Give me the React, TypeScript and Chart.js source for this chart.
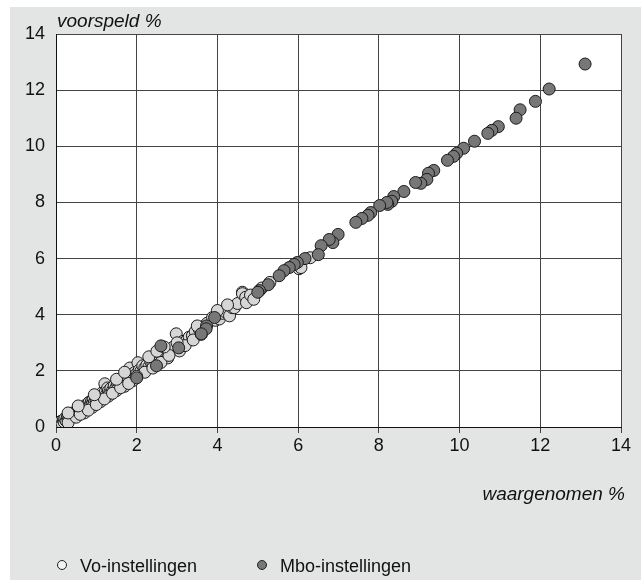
import React, { useEffect, useRef } from "react";
import { Chart, registerables } from "chart.js";

Chart.register(...registerables);

const seriesNames = ["Vo-instellingen", "Mbo-instellingen"];
const xTitle = "waargenomen %";
const yTitle = "voorspeld %";
const xTickValues = [0, 2, 4, 6, 8, 10, 12, 14];
const yTickValues = [0, 2, 4, 6, 8, 10, 12, 14];

// Vo-instellingen: [waargenomen, voorspeld]
const voPoints: [number, number][] = [
  [0.02, 0.12], [0.05, 0.08], [0.08, 0.15], [0.1, 0.05], [0.12, 0.2], [0.15, 0.12],
  [0.18, 0.25], [0.2, 0.18], [0.22, 0.3], [0.25, 0.22], [0.28, 0.35], [0.3, 0.25],
  [0.32, 0.4], [0.35, 0.3], [0.38, 0.45], [0.4, 0.36], [0.42, 0.5], [0.45, 0.4],
  [0.48, 0.42], [0.5, 0.55], [0.52, 0.46], [0.55, 0.6], [0.58, 0.52], [0.6, 0.58],
  [0.62, 0.66], [0.65, 0.6], [0.68, 0.7], [0.7, 0.63], [0.72, 0.76], [0.75, 0.7],
  [0.78, 0.8], [0.8, 0.72], [0.82, 0.88], [0.85, 0.8], [0.88, 0.92], [0.9, 0.84],
  [0.92, 1.0], [0.95, 0.88], [0.98, 1.04], [1.0, 0.95], [1.03, 1.1], [1.06, 0.98],
  [1.1, 1.15], [1.12, 1.05], [1.15, 1.22], [1.18, 1.1], [1.21, 1.54], [1.22, 1.25],
  [1.25, 1.16], [1.28, 1.39], [1.3, 1.28], [1.33, 1.22], [1.36, 1.38], [1.4, 1.3],
  [1.44, 1.46], [1.48, 1.38], [1.52, 1.56], [1.56, 1.48], [1.6, 1.62], [1.63, 1.53],
  [1.67, 1.7], [1.72, 1.62], [1.76, 1.8], [1.8, 1.72], [1.83, 2.1], [1.86, 1.86],
  [1.9, 1.8], [1.95, 1.94], [2.0, 1.9], [2.03, 2.29], [2.06, 2.02], [2.1, 1.98],
  [2.15, 2.18], [2.2, 2.1], [2.25, 2.2], [2.3, 2.14], [2.35, 2.32], [2.4, 2.28],
  [2.45, 2.42], [2.5, 2.34], [2.57, 2.36], [2.62, 2.56], [2.7, 2.6], [2.77, 2.46],
  [2.82, 2.72], [2.9, 2.84], [2.98, 3.32], [3.06, 2.71], [3.1, 2.95], [3.15, 3.05],
  [3.23, 3.07], [3.3, 3.2], [3.38, 3.25], [3.45, 3.4], [3.55, 3.48], [3.65, 3.58],
  [3.75, 3.7], [3.88, 3.9], [3.95, 3.8], [4.05, 3.85], [4.12, 4.05], [4.2, 4.1],
  [4.3, 3.96], [4.37, 4.25], [4.42, 4.25], [4.5, 4.4], [4.62, 4.8], [4.62, 4.75],
  [4.7, 4.62], [4.72, 4.43], [4.82, 4.7], [4.9, 4.55], [5.1, 4.95], [5.3, 5.15],
  [6.02, 5.64], [6.07, 5.68], [6.3, 6.03],
  [0.3, 0.15], [0.5, 0.35], [0.7, 0.5], [0.9, 0.7], [1.1, 0.9], [1.3, 1.1],
  [1.5, 1.3], [1.7, 1.45], [1.9, 1.65], [2.2, 1.95], [2.4, 2.1], [2.6, 2.3],
  [0.6, 0.45], [0.8, 0.6], [1.0, 0.8], [1.2, 1.0], [1.4, 1.2], [1.6, 1.4],
  [1.8, 1.55], [2.0, 1.8], [2.8, 2.55], [3.2, 2.9], [3.4, 3.1], [3.6, 3.3],
  [1.5, 1.7], [1.7, 1.95], [2.3, 2.5], [2.5, 2.7], [0.3, 0.5], [0.55, 0.75],
  [0.95, 1.15], [3.0, 3.0], [3.5, 3.6], [4.0, 4.15], [4.25, 4.35], [2.68, 2.85],
];

// Mbo-instellingen: [waargenomen, voorspeld]
const mboPoints: [number, number][] = [
  [13.11, 12.93], [12.22, 12.04], [11.88, 11.6], [11.5, 11.3], [11.4, 11.0],
  [10.96, 10.7], [10.8, 10.57], [10.7, 10.46], [10.37, 10.18], [10.1, 9.93],
  [9.93, 9.75], [9.85, 9.64], [9.7, 9.5], [9.36, 9.14], [9.23, 9.04], [9.19, 8.82],
  [9.04, 8.68], [8.91, 8.71], [8.62, 8.39], [8.37, 8.21], [8.32, 8.04], [8.22, 7.93],
  [8.2, 8.0], [8.02, 7.89], [7.8, 7.64], [7.73, 7.54], [7.58, 7.43], [7.43, 7.29],
  [6.99, 6.86], [6.86, 6.57], [6.77, 6.68], [6.57, 6.46], [6.5, 6.14], [6.17, 6.0],
  [5.98, 5.86], [5.9, 5.79], [5.78, 5.68], [5.65, 5.57], [5.53, 5.39], [5.26, 5.07],
  [5.04, 4.86], [5.0, 4.8], [3.93, 3.9], [3.73, 3.6], [3.72, 3.5], [3.6, 3.32],
  [3.04, 2.82], [2.6, 2.89], [2.49, 2.18], [2.0, 1.75],
];

const FONT = "'Liberation Sans', Arial, Helvetica, sans-serif";

export default function App() {
  const ref = useRef<HTMLCanvasElement>(null);

  useEffect(() => {
    document.body.style.margin = "0";
    const canvas = ref.current;
    if (!canvas) return;

    const bgPlugin = {
      id: "bg",
      beforeDraw(chart: any) {
        const ctx = chart.ctx;
        const a = chart.chartArea;
        ctx.save();
        ctx.fillStyle = "#ffffff";
        ctx.fillRect(0, 0, chart.width, chart.height);
        ctx.fillStyle = "#e3e4e4";
        ctx.fillRect(10, 7, chart.width - 10, chart.height - 7);
        ctx.fillStyle = "#ffffff";
        ctx.fillRect(a.left, a.top, a.right - a.left, a.bottom - a.top);
        ctx.restore();
      },
    };

    const textPlugin = {
      id: "texts",
      afterDraw(chart: any) {
        const ctx = chart.ctx;
        const a = chart.chartArea;
        ctx.save();
        ctx.fillStyle = "#111";
        ctx.textBaseline = "alphabetic";
        ctx.font = `italic 19px ${FONT}`;
        ctx.textAlign = "left";
        ctx.fillText(yTitle, a.left + 1, 27);
        ctx.textAlign = "right";
        ctx.fillText(xTitle, a.right + 4, 500);

        // legend
        const items = [
          { x: 62, fill: "#f2f2f2", label: seriesNames[0] },
          { x: 262, fill: "#777777", label: seriesNames[1] },
        ];
        ctx.font = `18px ${FONT}`;
        ctx.textAlign = "left";
        items.forEach((it) => {
          ctx.beginPath();
          ctx.arc(it.x, 565, 4.5, 0, Math.PI * 2);
          ctx.fillStyle = it.fill;
          ctx.fill();
          ctx.lineWidth = 1;
          ctx.strokeStyle = "#222";
          ctx.stroke();
          ctx.fillStyle = "#111";
          ctx.fillText(it.label, it.x + 18, 572);
        });
        ctx.restore();
      },
    };

    const chart = new Chart(canvas, {
      type: "scatter",
      data: {
        datasets: [
          {
            label: seriesNames[1],
            data: mboPoints.map(([x, y]) => ({ x, y })),
            backgroundColor: "#777777",
            borderColor: "#1a1a1a",
            borderWidth: 1,
            pointRadius: 6,
          },
          {
            label: seriesNames[0],
            data: voPoints.map(([x, y]) => ({ x, y })),
            backgroundColor: "#d6d6d6",
            borderColor: "#1a1a1a",
            borderWidth: 1,
            pointRadius: 6,
          },
        ],
      },
      options: {
        responsive: false,
        animation: false,
        events: [],
        layout: { padding: { left: 0, top: 34, right: 20, bottom: 123 } },
        plugins: { legend: { display: false }, tooltip: { enabled: false } },
        scales: {
          x: {
            type: "linear",
            min: 0,
            max: 14,
            afterBuildTicks(scale: any) {
              scale.ticks = xTickValues.map((v) => ({ value: v }));
            },
            afterFit(scale: any) {
              scale.height = 30;
            },
            ticks: {
              color: "#111",
              font: { family: FONT, size: 18 },
              padding: 2,
              maxRotation: 0,
            },
            grid: { color: "#444", lineWidth: 1, tickLength: 6, tickColor: "#444" },
            border: { color: "#111", width: 1 },
          },
          y: {
            type: "linear",
            min: 0,
            max: 14,
            afterBuildTicks(scale: any) {
              scale.ticks = yTickValues.map((v) => ({ value: v }));
            },
            afterFit(scale: any) {
              scale.width = 56;
            },
            ticks: {
              color: "#111",
              font: { family: FONT, size: 18 },
              padding: 11,
            },
            grid: { color: "#444", lineWidth: 1, drawTicks: false },
            border: { color: "#111", width: 1 },
          },
        },
      },
      plugins: [bgPlugin, textPlugin],
    });

    return () => chart.destroy();
  }, []);

  return <canvas ref={ref} width={641} height={580} style={{ display: "block" }} />;
}
